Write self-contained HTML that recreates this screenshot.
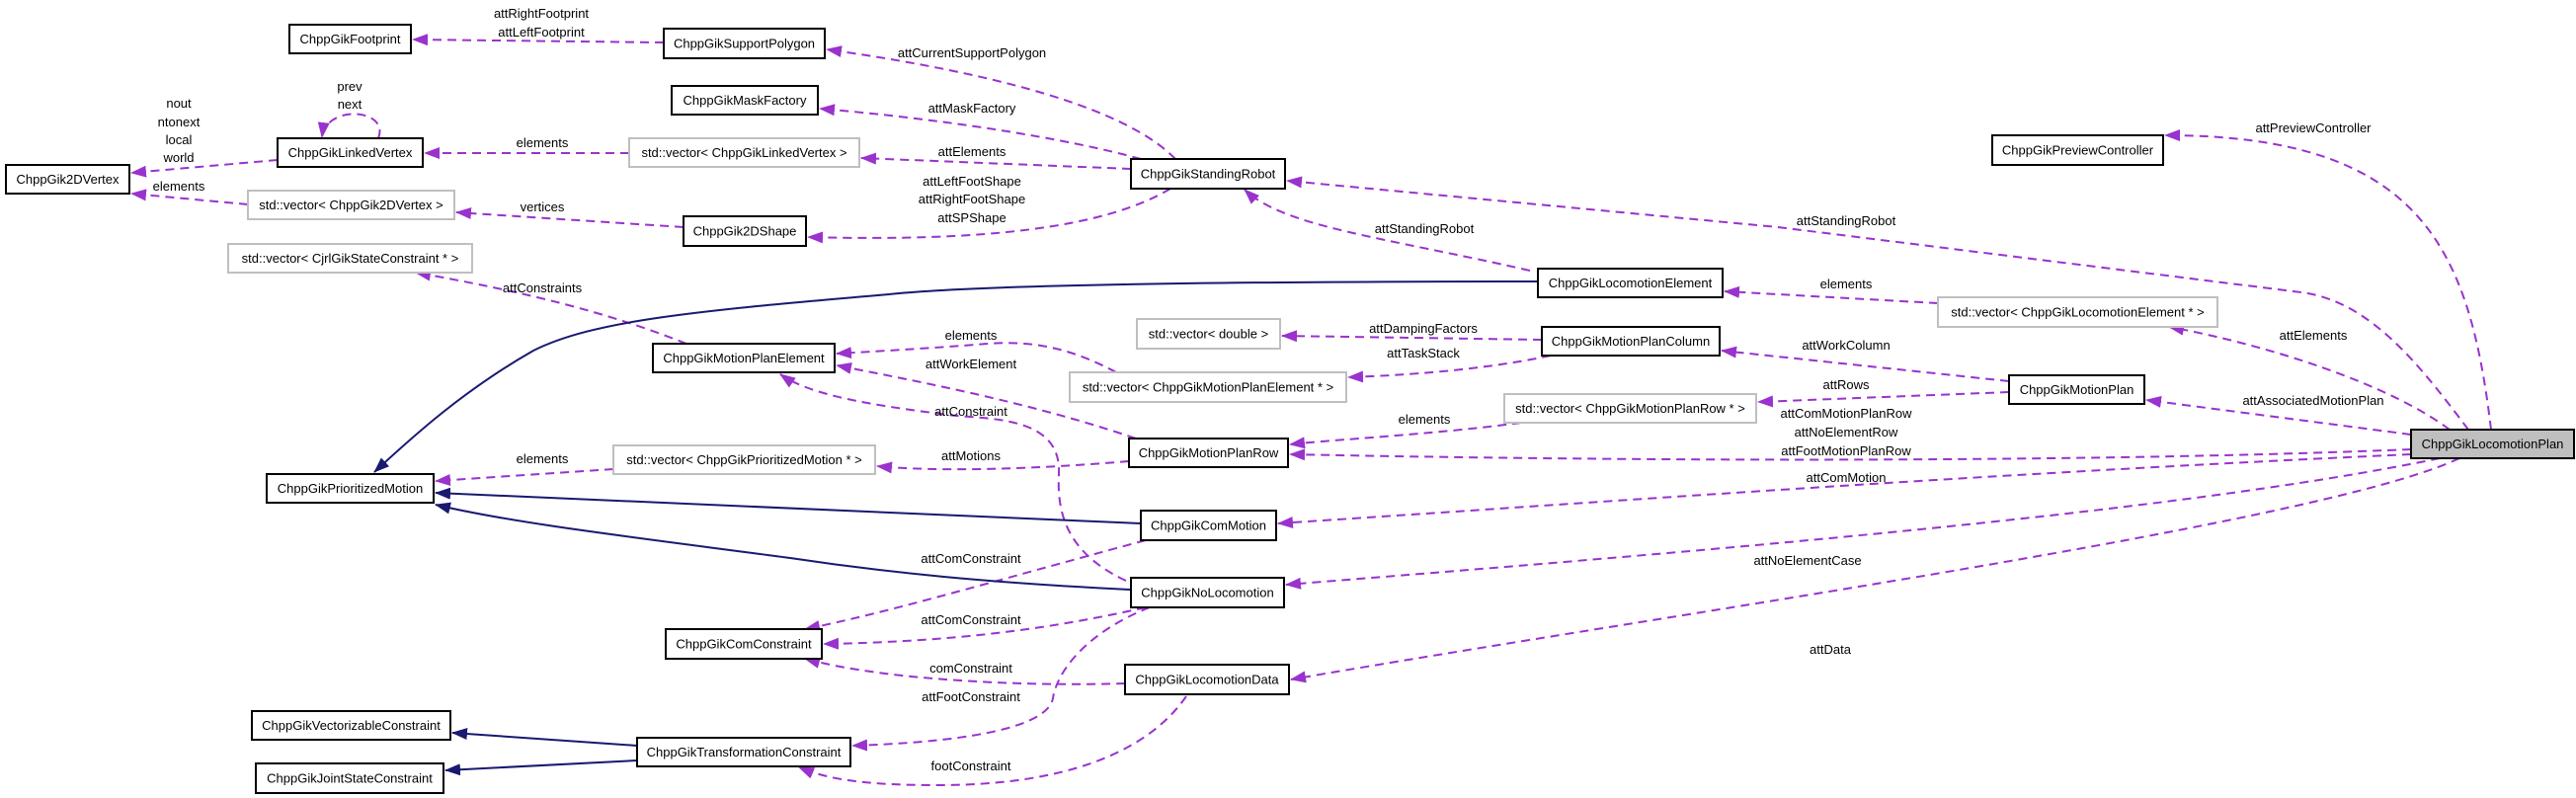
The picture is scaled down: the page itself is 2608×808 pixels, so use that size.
<!DOCTYPE html>
<html><head><meta charset="utf-8"><style>
html,body{margin:0;padding:0;background:#fff;}
svg{display:block;}
text{font-family:"Liberation Sans",sans-serif;font-size:13px;fill:#000;}
.n{fill:#fff;stroke:#000;stroke-width:2;}
.g{fill:#fff;stroke:#bfbfbf;stroke-width:2;}
.p{fill:none;stroke:#9a32cd;stroke-width:2;stroke-dasharray:9,6;}
.b{fill:none;stroke:#191970;stroke-width:2;}
</style></head><body>
<svg width="2608" height="808" viewBox="0 0 2608 808" xmlns="http://www.w3.org/2000/svg">
<defs>
<marker id="ap" markerWidth="16" markerHeight="12" refX="15" refY="6" orient="auto" markerUnits="userSpaceOnUse"><path d="M0,0 L16,6 L0,12 z" fill="#9a32cd"/></marker>
<marker id="ab" markerWidth="16" markerHeight="12" refX="15" refY="6" orient="auto" markerUnits="userSpaceOnUse"><path d="M0,0 L16,6 L0,12 z" fill="#191970"/></marker>
</defs>
<g marker-end="url(#ap)">
<path class="p" d="M672,43 L418,40"/>
<path class="p" d="M1190,161 C1150,120 1050,80 837,50"/>
<path class="p" d="M1155,161 C1080,140 950,120 830,110"/>
<path class="p" d="M1145,171 L872,160"/>
<path class="p" d="M1185,191 C1120,230 1000,245 818,240"/>
<path class="p" d="M637,155 L430,155"/>
<path class="p" d="M383,140 C395,110 330,105 326,139"/>
<path class="p" d="M281,162 L133,175"/>
<path class="p" d="M251,207 L133,196"/>
<path class="p" d="M692,230 L462,215"/>
<path class="p" d="M695,348 C600,310 500,290 421,276"/>
<path class="p" d="M1549,274 C1400,240 1300,230 1260,192"/>
<path class="p" d="M2499,435 C2450,370 2400,305 2330,296 L1800,230 L1303,183"/>
<path class="p" d="M2522,435 C2500,250 2450,137 2192,137"/>
<path class="p" d="M2480,435 C2420,390 2300,350 2196,331"/>
<path class="p" d="M1962,307 L1746,295"/>
<path class="p" d="M2441,440 L2173,405"/>
<path class="p" d="M1561,344 L1298,340"/>
<path class="p" d="M1570,360 C1500,375 1420,380 1365,382"/>
<path class="p" d="M2034,386 L1743,355"/>
<path class="p" d="M2034,397 L1780,407"/>
<path class="p" d="M1130,377 C1080,350 1040,345 1000,348 C950,352 900,355 847,358"/>
<path class="p" d="M1150,444 C1050,410 950,390 847,370"/>
<path class="p" d="M1140,588 C1080,560 1070,520 1072,480 C1075,420 1000,425 960,420 C880,410 820,400 790,379"/>
<path class="p" d="M1540,428 C1450,440 1350,445 1306,450"/>
<path class="p" d="M2441,455 C2200,465 1800,470 1306,460"/>
<path class="p" d="M1143,467 C1050,475 950,478 888,472"/>
<path class="p" d="M621,475 L441,487"/>
<path class="p" d="M2441,460 C2000,480 1600,510 1294,530"/>
<path class="p" d="M1160,547 C1000,590 900,620 815,637"/>
<path class="p" d="M2470,464 C2200,520 1700,560 1302,592"/>
<path class="p" d="M1160,615 C1050,640 950,650 834,652"/>
<path class="p" d="M1164,615 C1100,640 1070,680 1066,707 C1060,740 960,752 863,755"/>
<path class="p" d="M1139,692 C1050,695 900,690 815,667"/>
<path class="p" d="M1201,705 C1170,750 1100,795 950,795 C880,795 840,790 809,777"/>
<path class="p" d="M2490,464 C2350,530 1700,620 1307,688"/>
</g>
<g marker-end="url(#ab)">
<path class="b" d="M1557,285 C1300,285 1000,287 900,298 C700,315 600,325 540,355 C470,395 420,440 379,478"/>
<path class="b" d="M1155,530 L441,499"/>
<path class="b" d="M1145,597 C1000,590 900,580 800,565 C650,545 520,530 441,511"/>
<path class="b" d="M645,755 L458,742"/>
<path class="b" d="M645,770 L451,780"/>
</g>
<g text-anchor="middle">
<rect class="n" x="293" y="25" width="123" height="29"/><text x="354.5" y="44">ChppGikFootprint</text>
<rect class="n" x="672" y="29" width="163" height="30"/><text x="753.5" y="48.5">ChppGikSupportPolygon</text>
<rect class="n" x="680" y="87" width="148" height="29"/><text x="754" y="106">ChppGikMaskFactory</text>
<rect class="n" x="281" y="140" width="147" height="29"/><text x="354.5" y="159">ChppGikLinkedVertex</text>
<rect class="g" x="637" y="140" width="233" height="29"/><text x="753.5" y="159">std::vector&lt; ChppGikLinkedVertex &gt;</text>
<rect class="n" x="6" y="167" width="125" height="29"/><text x="68.5" y="186">ChppGik2DVertex</text>
<rect class="g" x="251" y="193" width="209" height="29"/><text x="355.5" y="212">std::vector&lt; ChppGik2DVertex &gt;</text>
<rect class="n" x="692" y="219" width="124" height="30"/><text x="754" y="238.5">ChppGik2DShape</text>
<rect class="g" x="231" y="247" width="247" height="29"/><text x="354.5" y="266">std::vector&lt; CjrlGikStateConstraint * &gt;</text>
<rect class="n" x="661" y="348" width="184" height="29"/><text x="753" y="367">ChppGikMotionPlanElement</text>
<rect class="n" x="270" y="480" width="169" height="29"/><text x="354.5" y="499">ChppGikPrioritizedMotion</text>
<rect class="g" x="621" y="451" width="265" height="29"/><text x="753.5" y="470">std::vector&lt; ChppGikPrioritizedMotion * &gt;</text>
<rect class="n" x="674" y="637" width="158" height="30"/><text x="753" y="656.5">ChppGikComConstraint</text>
<rect class="n" x="255" y="720" width="201" height="29"/><text x="355.5" y="739">ChppGikVectorizableConstraint</text>
<rect class="n" x="645" y="747" width="216" height="29"/><text x="753" y="766">ChppGikTransformationConstraint</text>
<rect class="n" x="259" y="773" width="190" height="30"/><text x="354" y="792.5">ChppGikJointStateConstraint</text>
<rect class="n" x="1145" y="161" width="156" height="30"/><text x="1223" y="180.5">ChppGikStandingRobot</text>
<rect class="n" x="1557" y="272" width="187" height="29"/><text x="1650.5" y="291">ChppGikLocomotionElement</text>
<rect class="g" x="1151" y="323" width="145" height="30"/><text x="1223.5" y="342.5">std::vector&lt; double &gt;</text>
<rect class="n" x="1561" y="331" width="180" height="29"/><text x="1651" y="350">ChppGikMotionPlanColumn</text>
<rect class="g" x="1083" y="377" width="280" height="30"/><text x="1223" y="396.5">std::vector&lt; ChppGikMotionPlanElement * &gt;</text>
<rect class="g" x="1523" y="399" width="255" height="29"/><text x="1650.5" y="418">std::vector&lt; ChppGikMotionPlanRow * &gt;</text>
<rect class="n" x="1143" y="444" width="161" height="29"/><text x="1223.5" y="463">ChppGikMotionPlanRow</text>
<rect class="n" x="1155" y="517" width="137" height="30"/><text x="1223.5" y="536.5">ChppGikComMotion</text>
<rect class="n" x="1145" y="585" width="155" height="30"/><text x="1222.5" y="604.5">ChppGikNoLocomotion</text>
<rect class="n" x="1139" y="673" width="166" height="30"/><text x="1222" y="692.5">ChppGikLocomotionData</text>
<rect class="n" x="2017" y="137" width="173" height="30"/><text x="2103.5" y="156.5">ChppGikPreviewController</text>
<rect class="g" x="1962" y="301" width="283" height="30"/><text x="2103.5" y="320.5">std::vector&lt; ChppGikLocomotionElement * &gt;</text>
<rect class="n" x="2034" y="380" width="137" height="29"/><text x="2102.5" y="399">ChppGikMotionPlan</text>
<rect x="2441" y="435" width="165" height="29" fill="#bfbfbf" stroke="#000" stroke-width="2"/><text x="2523.5" y="454">ChppGikLocomotionPlan</text>
</g>
<g text-anchor="middle">
<text x="548" y="18">attRightFootprint</text>
<text x="548" y="37">attLeftFootprint</text>
<text x="354" y="92">prev</text>
<text x="354" y="110">next</text>
<text x="181" y="109">nout</text>
<text x="181" y="128">ntonext</text>
<text x="181" y="146">local</text>
<text x="181" y="164">world</text>
<text x="549" y="149">elements</text>
<text x="181" y="193">elements</text>
<text x="549" y="214">vertices</text>
<text x="549" y="296">attConstraints</text>
<text x="549" y="469">elements</text>
<text x="984" y="58">attCurrentSupportPolygon</text>
<text x="984" y="114">attMaskFactory</text>
<text x="984" y="158">attElements</text>
<text x="984" y="188">attLeftFootShape</text>
<text x="984" y="206">attRightFootShape</text>
<text x="984" y="225">attSPShape</text>
<text x="1442" y="236">attStandingRobot</text>
<text x="983" y="344">elements</text>
<text x="983" y="373">attWorkElement</text>
<text x="1441" y="337">attDampingFactors</text>
<text x="1441" y="362">attTaskStack</text>
<text x="983" y="421">attConstraint</text>
<text x="1442" y="429">elements</text>
<text x="983" y="466">attMotions</text>
<text x="983" y="570">attComConstraint</text>
<text x="983" y="632">attComConstraint</text>
<text x="983" y="681">comConstraint</text>
<text x="983" y="710">attFootConstraint</text>
<text x="983" y="780">footConstraint</text>
<text x="2342" y="134">attPreviewController</text>
<text x="1869" y="228">attStandingRobot</text>
<text x="1869" y="292">elements</text>
<text x="1869" y="354">attWorkColumn</text>
<text x="1869" y="394">attRows</text>
<text x="1869" y="423">attComMotionPlanRow</text>
<text x="1869" y="442">attNoElementRow</text>
<text x="1869" y="461">attFootMotionPlanRow</text>
<text x="1869" y="488">attComMotion</text>
<text x="2342" y="344">attElements</text>
<text x="2342" y="410">attAssociatedMotionPlan</text>
<text x="1830" y="572">attNoElementCase</text>
<text x="1853" y="662">attData</text>
</g>
</svg>
</body></html>
